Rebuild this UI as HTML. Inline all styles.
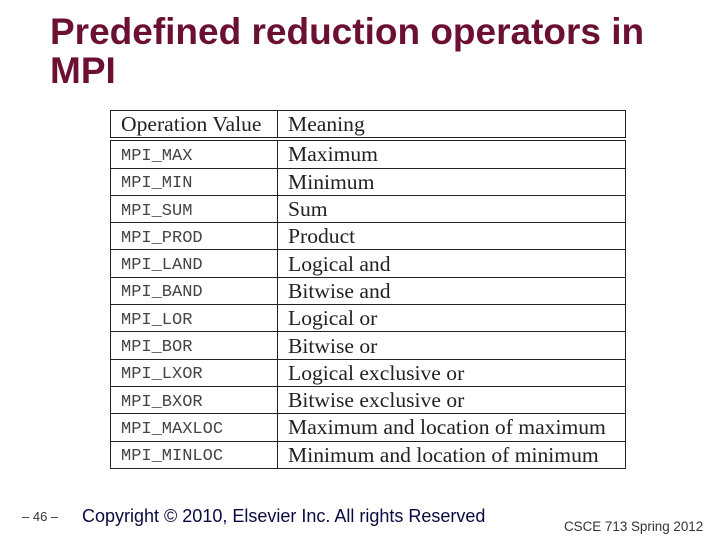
<!DOCTYPE html>
<html><head><meta charset="utf-8"><style>
body{margin:0;width:720px;height:540px;background:#fff;position:relative;overflow:hidden;font-family:"Liberation Sans",sans-serif}
.t{position:absolute;left:50px;top:12px;color:#6b1032;font-size:37px;font-weight:bold;line-height:39px}
table{position:absolute;left:110px;top:110px;border-collapse:collapse;width:515px;table-layout:fixed}
td{border:1.5px solid #222;height:26.3px;padding:0 0 0 10px;font-family:"Liberation Serif",serif;font-size:21.6px;color:#222;line-height:24px;vertical-align:middle;white-space:nowrap;overflow:hidden}
td.c{font-family:"Liberation Mono",monospace;font-size:17px;color:#444;line-height:20px;padding-top:5px;box-sizing:border-box}
tr.h td{font-family:"Liberation Serif",serif;font-size:21.6px;color:#222;border-bottom:4px double #222}
.f{position:absolute;white-space:nowrap}
</style></head><body>
<div class="t">Predefined reduction operators in<br>MPI</div>
<table>
<colgroup><col style="width:167px"><col style="width:348px"></colgroup>
<tr class="h"><td class="c" style="font-family:'Liberation Serif',serif;font-size:21.6px;color:#222;line-height:24px;padding-top:0">Operation Value</td><td>Meaning</td></tr>
<tr><td class="c">MPI_MAX</td><td>Maximum</td></tr>
<tr><td class="c">MPI_MIN</td><td>Minimum</td></tr>
<tr><td class="c">MPI_SUM</td><td>Sum</td></tr>
<tr><td class="c">MPI_PROD</td><td>Product</td></tr>
<tr><td class="c">MPI_LAND</td><td>Logical and</td></tr>
<tr><td class="c">MPI_BAND</td><td>Bitwise and</td></tr>
<tr><td class="c">MPI_LOR</td><td>Logical or</td></tr>
<tr><td class="c">MPI_BOR</td><td>Bitwise or</td></tr>
<tr><td class="c">MPI_LXOR</td><td>Logical exclusive or</td></tr>
<tr><td class="c">MPI_BXOR</td><td>Bitwise exclusive or</td></tr>
<tr><td class="c">MPI_MAXLOC</td><td>Maximum and location of maximum</td></tr>
<tr><td class="c">MPI_MINLOC</td><td>Minimum and location of minimum</td></tr>
</table>
<div class="f" style="left:22px;top:509px;font-size:13px;color:#333">– 46 –</div>
<div class="f" style="left:82px;top:506px;font-size:18px;color:#0a0a40">Copyright © 2010, Elsevier Inc. All rights Reserved</div>
<div class="f" style="left:564px;top:519px;font-size:13.4px;color:#333">CSCE 713 Spring 2012</div>
</body></html>
